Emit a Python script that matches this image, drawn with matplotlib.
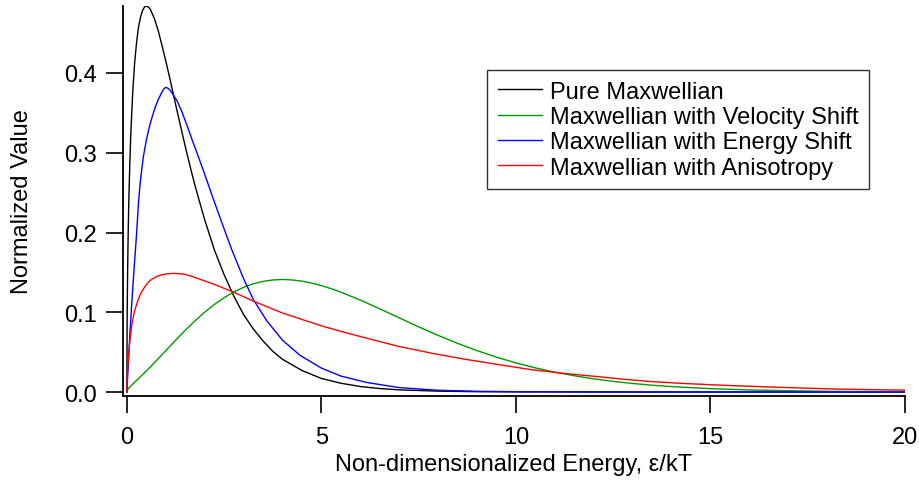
import matplotlib
matplotlib.use("Agg")
import matplotlib.pyplot as plt

plt.rcParams['font.family'] = ['Liberation Sans', 'DejaVu Sans']

# ---- data ----
# pure Maxwellian
black_e = [0, 0.005, 0.01, 0.02, 0.035, 0.05, 0.075, 0.1, 0.15, 0.2, 0.25, 0.3,
           0.35, 0.4, 0.45, 0.5, 0.55, 0.6, 0.7, 0.8, 0.9, 1.0, 1.1, 1.25, 1.4,
           1.5, 1.65, 1.75, 1.9, 2.0, 2.25, 2.5, 2.75, 3.0, 3.25, 3.5, 3.75, 4.0,
           4.5, 5.0, 5.5, 6.0, 6.5, 7.0, 8.0, 9.0, 10.0, 12.0, 15.0, 20.0]
black_v = [0, 0.079, 0.112, 0.156, 0.204, 0.240, 0.287, 0.323, 0.376, 0.413,
           0.439, 0.458, 0.470, 0.478, 0.4826, 0.484, 0.4828, 0.480, 0.469, 0.454,
           0.435, 0.415, 0.394, 0.361, 0.329, 0.308, 0.278, 0.259, 0.233, 0.216,
           0.178, 0.147, 0.120, 0.097, 0.079, 0.064, 0.051, 0.041, 0.027, 0.017,
           0.011, 0.0069, 0.0043, 0.0027, 0.0011, 0.0004, 0.00016, 0.00003, 0, 0]

# Maxwellian with velocity shift
green_e = [0, 0.02, 0.05, 0.1, 0.25, 0.5, 0.75, 1.0, 1.25, 1.5, 1.75, 2.0, 2.25,
           2.5, 2.75, 3.0, 3.25, 3.5, 3.75, 4.0, 4.25, 4.5, 4.75, 5.0, 5.25, 5.5,
           6.0, 6.5, 7.0, 7.5, 8.0, 8.5, 9.0, 9.5, 10.0, 10.5, 11.0, 11.5, 12.0,
           12.5, 13.0, 13.5, 14.0, 15.0, 16.0, 17.0, 18.0, 20.0]
green_v = [0, 0.0030, 0.0050, 0.0076, 0.0146, 0.0264, 0.0389, 0.0519, 0.0648,
           0.0773, 0.0892, 0.1001, 0.1098, 0.1183, 0.1255, 0.1313, 0.1357, 0.1387,
           0.1405, 0.1411, 0.1405, 0.1390, 0.1366, 0.1334, 0.1296, 0.1252, 0.1153,
           0.1043, 0.0930, 0.0817, 0.0710, 0.0610, 0.0519, 0.0437, 0.0365, 0.0303,
           0.0249, 0.0204, 0.0165, 0.0133, 0.0107, 0.0085, 0.0068, 0.0042, 0.0026,
           0.0016, 0.0009, 0.0003]

# Maxwellian with energy shift
blue_e = [0, 0.01, 0.02, 0.05, 0.08, 0.12, 0.16, 0.2, 0.25, 0.3, 0.35, 0.42, 0.5,
          0.58, 0.65, 0.72, 0.8, 0.9, 0.95, 1.0, 1.05, 1.1, 1.2, 1.3, 1.4, 1.54,
          1.7, 1.8, 2.0, 2.2, 2.45, 2.7, 3.0, 3.25, 3.6, 4.0, 4.45, 5.0, 5.5, 6.16,
          7.0, 8.0, 9.0, 10.0, 12.0, 15.0, 20.0]
blue_v = [0, 0.010, 0.020, 0.048, 0.075, 0.107, 0.137, 0.165, 0.199, 0.239, 0.266,
          0.294, 0.316, 0.333, 0.345, 0.356, 0.366, 0.376, 0.380, 0.382, 0.381,
          0.379, 0.372, 0.364, 0.353, 0.335, 0.313, 0.300, 0.273, 0.245, 0.211,
          0.178, 0.142, 0.116, 0.089, 0.065, 0.046, 0.030, 0.020, 0.012, 0.0055,
          0.0022, 0.0009, 0.0004, 0.0001, 0, 0]

# Maxwellian with anisotropy
red_e = [0, 0.005, 0.01, 0.02, 0.035, 0.05, 0.08, 0.12, 0.16, 0.2, 0.25, 0.3,
         0.37, 0.45, 0.52, 0.6, 0.7, 0.8, 0.9, 1.0, 1.12, 1.25, 1.38, 1.5, 1.7,
         1.9, 2.1, 2.3, 2.5, 2.7, 3.0, 3.25, 3.6, 4.0, 4.5, 5.0, 5.5, 6.16, 7.0,
         7.9, 8.7, 9.6, 10.4, 11.3, 12.16, 12.76, 13.5, 14.4, 15.3, 16.7, 17.4,
         18.25, 19.6, 20.0]
red_v = [0, 0.012, 0.018, 0.028, 0.040, 0.050, 0.066, 0.082, 0.093, 0.102, 0.110,
         0.117, 0.125, 0.131, 0.136, 0.140, 0.143, 0.1455, 0.147, 0.148, 0.1485,
         0.1487, 0.1483, 0.1474, 0.1445, 0.141, 0.1375, 0.134, 0.130, 0.126,
         0.1195, 0.114, 0.107, 0.099, 0.091, 0.083, 0.076, 0.0675, 0.057, 0.048,
         0.041, 0.034, 0.028, 0.023, 0.019, 0.016, 0.013, 0.0105, 0.0085, 0.006,
         0.0049, 0.0037, 0.0026, 0.0024]

labels = ["Pure Maxwellian", "Maxwellian with Velocity Shift",
          "Maxwellian with Energy Shift", "Maxwellian with Anisotropy"]
x_ticks = [0, 5, 10, 15, 20]
y_ticks = [0.0, 0.1, 0.2, 0.3, 0.4]

# ---- figure ----
fig = plt.figure(figsize=(9.2, 4.85), dpi=100)
ax = fig.add_axes([123 / 920, 1 - 397 / 485, 782 / 920, 390 / 485])

lw = 1.0
ax.plot(black_e, black_v, color="black", lw=lw, label=labels[0])
ax.plot(green_e, green_v, color="#009900", lw=lw, label=labels[1])
ax.plot(blue_e, blue_v, color="#0000ff", lw=lw, label=labels[2])
ax.plot(red_e, red_v, color="#ff0000", lw=lw, label=labels[3])

ax.set_xlim(-0.1, 20)
ax.set_ylim(-0.005, 0.484)
ax.set_xticks(x_ticks)
ax.set_xticklabels([str(t) for t in x_ticks])
ax.set_yticks(y_ticks)
ax.set_yticklabels([f"{t:.1f}" for t in y_ticks])

for s in ["top", "right"]:
    ax.spines[s].set_visible(False)
for s in ["left", "bottom"]:
    ax.spines[s].set_linewidth(1.3)

ax.tick_params(axis="both", direction="out", length=12.5, width=1.2,
               labelsize=17, color="black")
ax.tick_params(axis="x", pad=9)
ax.tick_params(axis="y", pad=6.5)

ax.set_xlabel("Non-dimensionalized Energy, \u03b5/kT", fontsize=17, labelpad=4)
ax.set_ylabel("Normalized Value", fontsize=17, labelpad=22)

leg = ax.legend(loc="upper left", bbox_to_anchor=(487 / 920, 1 - 71 / 485),
                bbox_transform=fig.transFigure, fontsize=17, frameon=True,
                fancybox=False, shadow=False, borderaxespad=0,
                handlelength=1.9, handletextpad=0.32, labelspacing=0.14,
                borderpad=0.45)
leg.get_frame().set_edgecolor("black")
leg.get_frame().set_linewidth(1.0)

fig.savefig("out.png", dpi=100)
